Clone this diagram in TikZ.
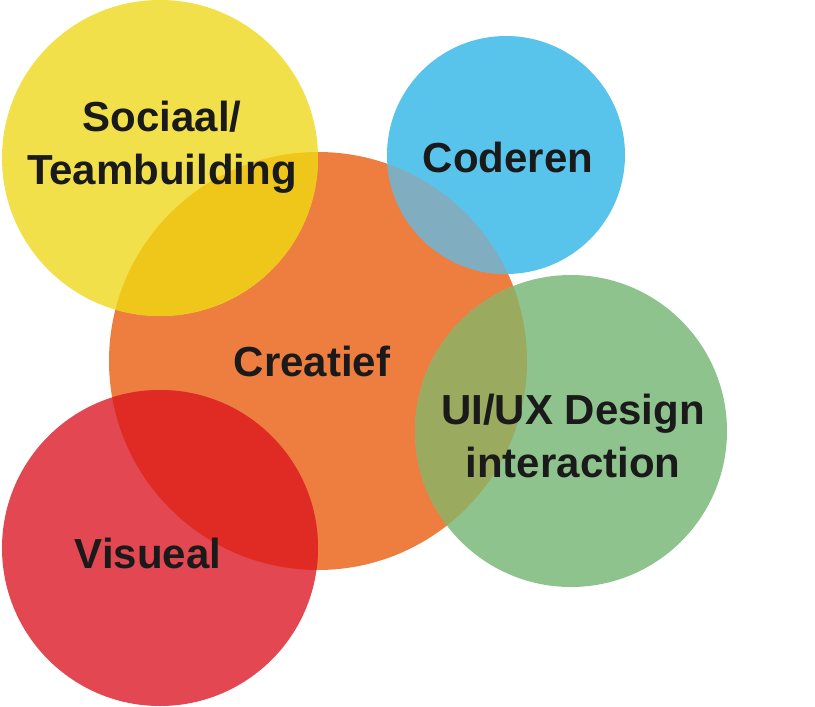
\documentclass[tikz,border=0pt]{standalone}
\usepackage{fontspec}
\setmainfont{Liberation Sans}
\usepackage{xcolor}
\usetikzlibrary{positioning}

\definecolor{creaorange}{HTML}{EE7D40}
\definecolor{socialyellow}{HTML}{F2E04A}
\definecolor{socialmix}{HTML}{EFC61A}
\definecolor{codeblue}{HTML}{58C4EC}
\definecolor{codemix}{HTML}{80AEC0}
\definecolor{designgreen}{HTML}{8FC38D}
\definecolor{designmix}{HTML}{9AAA5E}
\definecolor{visualred}{HTML}{E34751}
\definecolor{visualmix}{HTML}{E02B24}
\definecolor{textdark}{HTML}{1A1A1A}

\begin{document}
\begin{tikzpicture}[x=1pt,y=-1pt,
    label/.style={font=\fontsize{42}{53}\selectfont\bfseries,text=textdark,align=center,inner sep=0pt}]
    \useasboundingbox (0,0) rectangle (815,707);

    % Circles
    \fill[creaorange] (318,361) circle (209pt);
    \fill[socialyellow] (160,158) circle (158pt);
    \fill[codeblue] (506,155) circle (119pt);
    \fill[designgreen] (571,431) circle (156pt);
    \fill[visualred] (160,548) circle (158pt);

    % Overlaps with the central circle
    \begin{scope}
        \clip (318,361) circle (209pt);
        \fill[socialmix] (160,158) circle (158pt);
        \fill[codemix] (506,155) circle (119pt);
        \fill[designmix] (571,431) circle (156pt);
        \fill[visualmix] (160,548) circle (158pt);
    \end{scope}

    % Labels
    \node[label] (social) at (162,147.5) {Sociaal/\\Teambuilding};
    \node[label] (code) at (508,157) {Coderen};
    \node[label] (crea) at (312,361) {Creatief};
    \node[label] (design) at (573,436) {UI/UX Design\\interaction};
    \node[label] (visual) at (148,553) {Visueal};
\end{tikzpicture}
\end{document}
